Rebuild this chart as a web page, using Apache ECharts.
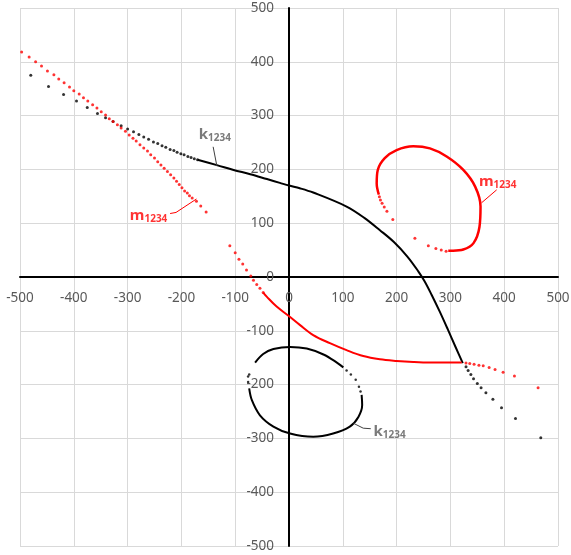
<!DOCTYPE html>
<html>
<head>
<meta charset="utf-8">
<script src="https://cdn.jsdelivr.net/npm/echarts@6/dist/echarts.min.js"></script>
<style>
html,body{margin:0;padding:0;background:#fff;}
#chart{width:571px;height:555px;}
</style>
</head>
<body>
<div id="chart"></div>
<script>
// ---- data ----
var xTicks = [-500, -400, -300, -200, -100, 0, 100, 200, 300, 400, 500];
var yTicks = [-500, -400, -300, -200, -100, 0, 100, 200, 300, 400, 500];

// k1234 (black)
var kUpperDots = [[-480,375],[-447,354],[-419,339],[-395,327],[-375,315],[-356,304],[-341,296],[-327,289],[-312,281],[-300,275],[-289,270],[-279,265],[-270,260],[-261,256],[-252,251],[-244,248],[-236,244],[-229,241],[-221,237],[-214,235],[-208,232],[-201,229],[-195,227],[-188,224],[-182,222],[-176,220],[-170,218]];
var kUpperLine = [[-170,218],[-134,208],[-103,199],[-72,191],[-41,182],[-17,175],[0,170],[20,165],[45,157],[107,131],[140,110],[169,87],[195,65],[220,38],[240,11],[252,-8],[265,-33],[280,-64],[295,-97],[310,-131],[323,-160]];
var kLowerDots = [[329,-167],[333,-174],[338,-181],[343,-189],[350,-198],[357,-206],[366,-215],[379,-227],[395,-243],[421,-263],[468,-299]];
var kLoopTop = [[-63,-159],[-48,-143],[-29,-134],[2,-130],[33,-133],[64,-144],[89,-159],[101,-168]];
var kLoopGapDots = [[107,-174],[115,-181],[124,-191],[130,-204],[133,-213]];
var kLoopBottom = [[135,-219],[136,-238],[129,-260],[113,-278],[82,-291],[45,-297],[2,-291],[-29,-278],[-54,-257],[-69,-229],[-74,-207]];
var kLoopEndDots = [[-76,-195],[-76,-185],[-74,-181]];

// m1234 (red)
var mUpperDots = [[-497,418],[-483,409],[-471,400],[-460,392],[-449,383],[-437,376],[-428,368],[-418,361],[-408,353],[-400,346],[-390,340],[-382,333],[-374,327],[-365,320],[-357,314],[-349,307],[-341,301],[-334,294],[-327,289],[-319,283],[-312,277],[-304,271],[-297,264],[-290,258],[-284,253],[-277,246],[-270,240],[-263,234],[-257,227],[-250,221],[-244,214],[-238,208],[-232,202],[-226,196],[-220,190],[-214,184],[-209,178],[-204,172],[-199,166],[-194,160],[-189,156],[-185,151],[-180,147],[-172,141],[-164,132],[-154,121]];
var mLowerDots = [[-110,58],[-100,45],[-93,33],[-86,24],[-79,13],[-71,2],[-66,-6],[-60,-14],[-54,-21],[-48,-29]];
var mLowerLine = [[-48,-29],[-41,-37],[-23,-55],[-1,-72],[20,-89],[45,-108],[76,-123],[107,-136],[138,-147],[169,-153],[200,-156],[231,-158],[262,-159],[293,-159],[321,-159]];
var mTailDots = [[329,-160],[336,-161],[344,-162],[353,-164],[361,-165],[372,-168],[383,-172],[398,-177],[419,-184],[463,-206]];
var mLoopDots = [[292,48],[283,50],[273,53],[259,58],[234,72],[193,107],[182,122],[177,130],[173,137],[170,143],[168,149]];
var mLoopLine = [[167,153],[163,174],[165,199],[178,221],[200,236],[231,243],[262,239],[293,224],[324,199],[346,168],[356,131],[354,93],[343,63],[324,51],[305,49],[296,49]];

// annotation labels and leader lines (data coordinates)
var labelK = ['k', '1234'];
var labelM = ['m', '1234'];
var kTopLabelAt = [-138, 263];
var kTopLeader = [[-141,242],[-134,206]];
var kBottomLabelAt = [187, -288];
var kBottomLeader = [[120,-272],[138,-281],[152,-282]];
var mLeftLabelAt = [-261, 113];
var mLeftLeader = [[-221,118],[-210,120],[-172,145]];
var mRightLabelAt = [388, 176];
var mRightLeader = [[386,162],[358,138]];

var RED = '#ff0000', BLACK = '#000000', GREY = '#595959';

function dots(data, color, size) {
  return {type:'scatter', data:data, symbol:'circle', symbolSize:size, itemStyle:{color:color}, silent:true};
}
function curve(data, color, width) {
  return {type:'line', data:data, showSymbol:false, smooth:0.35, lineStyle:{color:color, width:width}, silent:true};
}
function leader(data, color) {
  return {type:'line', data:data, showSymbol:false, lineStyle:{color:color, width:1}, silent:true, z:3};
}
function textLabel(at, parts, color) {
  return {
    type:'scatter', data:[at], symbolSize:0, silent:true, z:4,
    label:{
      show:true, position:'inside',
      formatter:'{a|' + parts[0] + '}{b|' + parts[1] + '}',
      rich:{
        a:{fontFamily:'Noto Sans', fontSize:15, fontWeight:'bold', color:color, verticalAlign:'top', lineHeight:16},
        b:{fontFamily:'Noto Sans', fontSize:10, fontWeight:'bold', color:color, verticalAlign:'bottom', lineHeight:11, padding:[4,0,0,0]}
      }
    }
  };
}

var GRID_L = 20, GRID_R = 13, GRID_T = 8, GRID_B = 9, W = 571, H = 555;
var halfW = (W - GRID_L - GRID_R) / 2, halfH = (H - GRID_T - GRID_B) / 2;

var chart = echarts.init(document.getElementById('chart'));
var axisCommon = {
  type:'value', min:-500, max:500, interval:100,
  axisLine:{onZero:false, lineStyle:{color:'#000', width:2}},
  axisTick:{show:false},
  splitLine:{show:true, lineStyle:{color:'#d9d9d9', width:1}}
};
chart.setOption({
  animation:false,
  backgroundColor:'#fff',
  grid:{left:GRID_L, right:GRID_R, top:GRID_T, bottom:GRID_B, containLabel:false, outerBoundsMode:'none'},
  xAxis: Object.assign({}, axisCommon, {
    position:'bottom', offset:-halfH,
    axisLabel:{color:GREY, fontFamily:'Noto Sans', fontSize:13.5, margin:14, hideOverlap:false,
      formatter:function(v){ return xTicks.indexOf(v) >= 0 ? String(v) : ''; }}
  }),
  yAxis: Object.assign({}, axisCommon, {
    position:'left', offset:-halfW,
    axisLabel:{color:GREY, fontFamily:'Noto Sans', fontSize:13.5, margin:15, hideOverlap:false,
      formatter:function(v){ return yTicks.indexOf(v) >= 0 ? String(v) : ''; }}
  }),
  series:[
    curve(kUpperLine, BLACK, 2),
    dots(kUpperDots, BLACK, 3),
    dots(kLowerDots, BLACK, 3),
    curve(kLoopTop, BLACK, 2),
    dots(kLoopGapDots, BLACK, 2.5),
    curve(kLoopBottom, BLACK, 2),
    dots(kLoopEndDots, BLACK, 2.5),
    dots(mUpperDots, RED, 3),
    dots(mLowerDots, RED, 3),
    curve(mLowerLine, RED, 2),
    dots(mTailDots, RED, 3),
    dots(mLoopDots, RED, 3),
    curve(mLoopLine, RED, 2.5),
    leader(kTopLeader, '#404040'),
    leader(kBottomLeader, '#404040'),
    leader(mLeftLeader, RED),
    leader(mRightLeader, RED),
    textLabel(kTopLabelAt, labelK, GREY),
    textLabel(kBottomLabelAt, labelK, GREY),
    textLabel(mLeftLabelAt, labelM, RED),
    textLabel(mRightLabelAt, labelM, RED)
  ]
});
</script>
</body>
</html>
